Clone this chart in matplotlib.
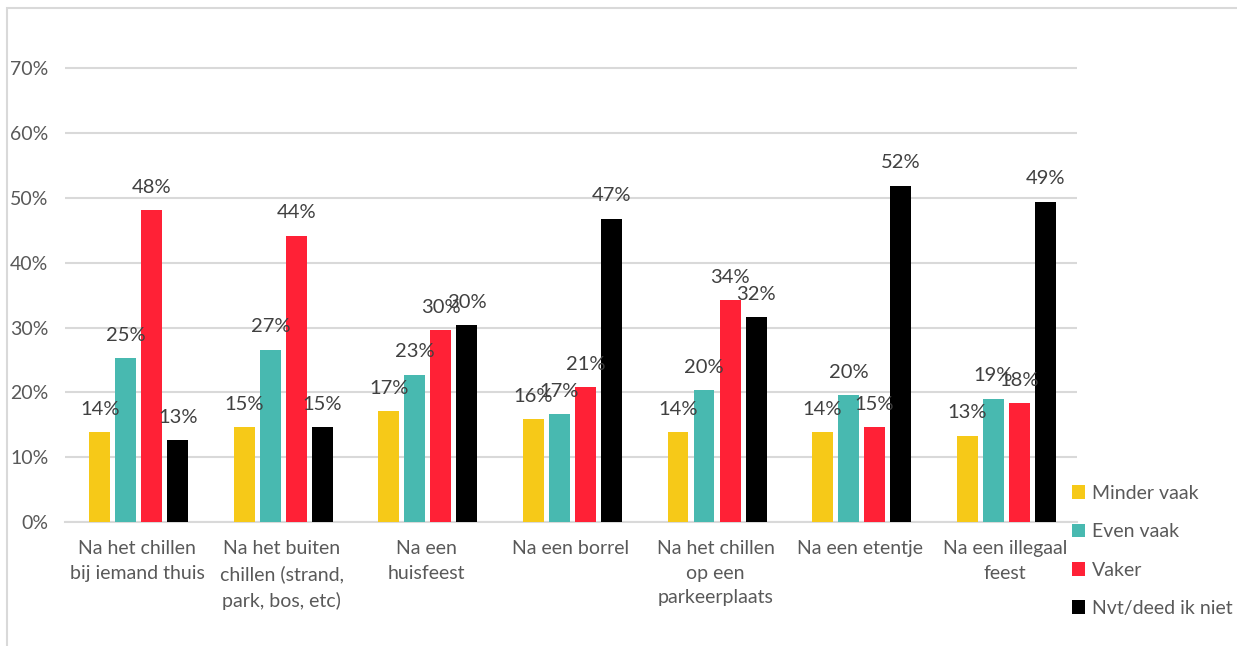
import matplotlib
matplotlib.use("Agg")
import matplotlib.pyplot as plt
import numpy as np
from matplotlib.patches import Rectangle

categories = [
    "Na het chillen\nbij iemand thuis",
    "Na het buiten\nchillen (strand,\npark, bos, etc)",
    "Na een\nhuisfeest",
    "Na een borrel",
    "Na het chillen\nop een\nparkeerplaats",
    "Na een etentje",
    "Na een illegaal\nfeest",
]
series_names = ["Minder vaak", "Even vaak", "Vaker", "Nvt/deed ik niet"]
minder_vaak = [13.9, 14.6, 17.1, 15.9, 13.9, 13.9, 13.3]
even_vaak = [25.3, 26.6, 22.7, 16.6, 20.3, 19.6, 19.0]
vaker = [48.1, 44.2, 29.6, 20.8, 34.2, 14.6, 18.3]
nvt = [12.6, 14.6, 30.4, 46.8, 31.6, 51.9, 49.4]
yticks = [0, 10, 20, 30, 40, 50, 60, 70]

colors = ["#F6C918", "#48B9B0", "#FF2136", "#000000"]
values = [minder_vaak, even_vaak, vaker, nvt]

plt.rcParams['font.family'] = ['Lato', 'DejaVu Sans']

fig = plt.figure(figsize=(12.37, 6.46), dpi=100)
W, H = 1237, 646
ax = fig.add_axes([65 / W, 1 - 522 / H, (1077 - 65) / W, (522 - 36) / H])

x = np.arange(len(categories))
bw = 0.145
step = 0.18
offsets = [-1.5 * step, -0.5 * step, 0.5 * step, 1.5 * step]
for vals, col, off, name in zip(values, colors, offsets, series_names):
    ax.bar(x + off + 0.01, vals, width=bw, color=col, label=name, zorder=3)
    for xi, v in zip(x + off + 0.01, vals):
        ax.annotate(f"{v:.0f}%", (xi, v), xytext=(0, 16.5), textcoords="offset points",
                    ha="center", va="center", fontsize=14.5, color="#404040", zorder=4)

ax.set_xlim(-0.5, len(categories) - 0.5)
ax.set_ylim(0, 75)
ax.set_yticks(yticks)
ax.set_yticklabels([f"{t}%" for t in yticks], fontsize=14, color="#595959")
ax.set_xticks(x)
ax.set_xticklabels(categories, fontsize=14, color="#595959", linespacing=1.55, va="top")
ax.tick_params(axis="both", length=0)
ax.tick_params(axis="y", pad=12)
ax.tick_params(axis="x", pad=13)
ax.grid(axis="y", color="#D9D9D9", linewidth=1.5, zorder=0)
for s in ["top", "right", "left"]:
    ax.spines[s].set_visible(False)
ax.spines["bottom"].set_color("#D9D9D9")
ax.spines["bottom"].set_linewidth(1.5)
ax.spines["bottom"].set_zorder(2)

fig.legend(loc="upper left", bbox_to_anchor=(1064 / W, 1 - 477 / H), frameon=False,
           fontsize=14, labelcolor="#595959", handlelength=0.7, handleheight=0.7,
           handletextpad=0.35, labelspacing=1.1, borderaxespad=0)

fig.patches.append(Rectangle((7 / W, -0.1), 1.2, (646 - 8) / H + 0.1, transform=fig.transFigure,
                             fill=False, edgecolor="#D9D9D9", linewidth=1.5))

fig.savefig("out.png", dpi=100)
